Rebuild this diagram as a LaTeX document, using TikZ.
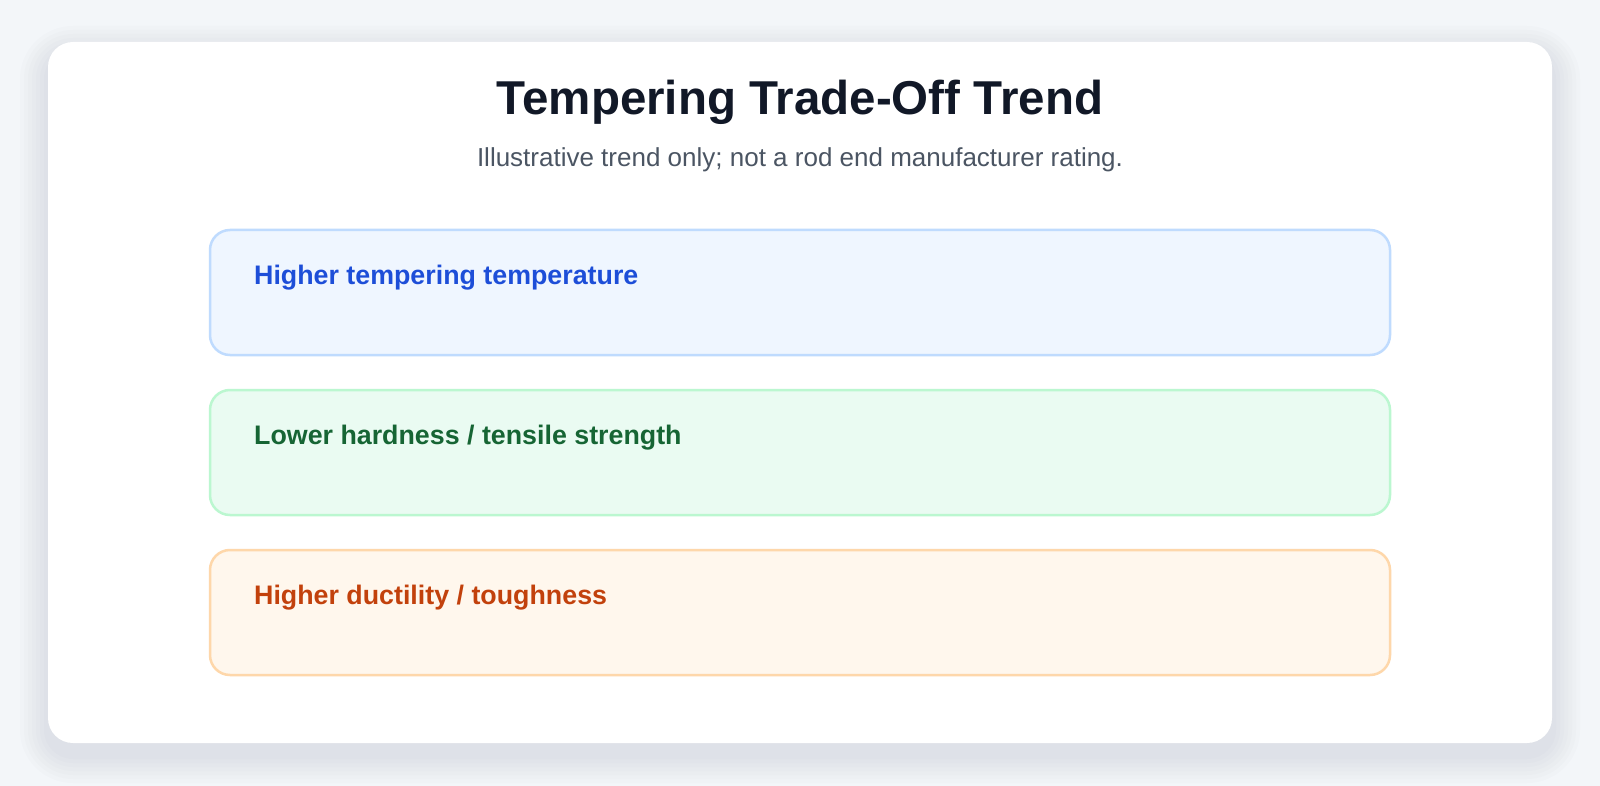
\documentclass[tikz,border=0pt]{standalone}
\usepackage{fontspec}
\setmainfont{Liberation Sans}
\usepackage{xcolor}
\usetikzlibrary{positioning}

\definecolor{fundo}{HTML}{F3F6F9}
\definecolor{sombra}{HTML}{64748B}
\definecolor{titulo}{HTML}{111827}
\definecolor{subtitulo}{HTML}{4B5563}
\definecolor{azulfill}{HTML}{EFF6FF}
\definecolor{azulline}{HTML}{BFDBFE}
\definecolor{azultext}{HTML}{1D4ED8}
\definecolor{verdefill}{HTML}{EAFBF2}
\definecolor{verdeline}{HTML}{BBF7D0}
\definecolor{verdetext}{HTML}{166534}
\definecolor{laranjafill}{HTML}{FFF7ED}
\definecolor{laranjaline}{HTML}{FED7AA}
\definecolor{laranjatext}{HTML}{C2410C}

\begin{document}
\begin{tikzpicture}[
		    x=0.5pt, y=-0.5pt,
		    every node/.style={inner sep=0pt},
		    node distance=16.25pt
		]
		\tikzset{
		    caixa/.style={draw, rectangle, rounded corners=10pt, line width=1.25pt,
		        minimum width=590pt, minimum height=62.5pt},
		    rotulo/.style={anchor=base west, xshift=22.5pt, yshift=-28pt,
		        font=\bfseries\fontsize{13.4}{16}\selectfont},
		    azul/.style={caixa, draw=azulline, fill=azulfill},
		    verde/.style={caixa, draw=verdeline, fill=verdefill},
		    laranja/.style={caixa, draw=laranjaline, fill=laranjafill}
		}
		% fundo e cartao
		\fill[fundo] (0,0) rectangle (1600,786);
		\useasboundingbox (0,0) rectangle (1600,786);
		\foreach \s in {28,24,20,16,12,8,4}{
		    \fill[sombra, opacity=0.018, rounded corners=12.5pt+\s*0.5pt]
		        (48-\s,42-\s+12) rectangle (1552+\s,743+\s+12);
		}
		\fill[white, rounded corners=12.5pt] (48,42) rectangle (1552,743);
		% titulo
		\node[anchor=base, text=titulo, font=\bfseries\fontsize{23.75}{28}\selectfont]
		    (titulo) at (800,115) {Tempering Trade-Off Trend};
		\node[anchor=base, text=subtitulo, font=\fontsize{13}{16}\selectfont]
		    (subtitulo) at (800,167) {Illustrative trend only; not a rod end manufacturer rating.};
		% caixas
		\node[azul] (temperatura) at (800,292.5) {};
		\node[verde, below=of temperatura] (dureza) {};
		\node[laranja, below=of dureza] (ductilidade) {};
		\node[rotulo, text=azultext] (rotuloA) at (temperatura.north west) {Higher tempering temperature};
		\node[rotulo, text=verdetext] (rotuloB) at (dureza.north west) {Lower hardness / tensile strength};
		\node[rotulo, text=laranjatext] (rotuloC) at (ductilidade.north west) {Higher ductility / toughness};
		\end{tikzpicture}
\end{document}
